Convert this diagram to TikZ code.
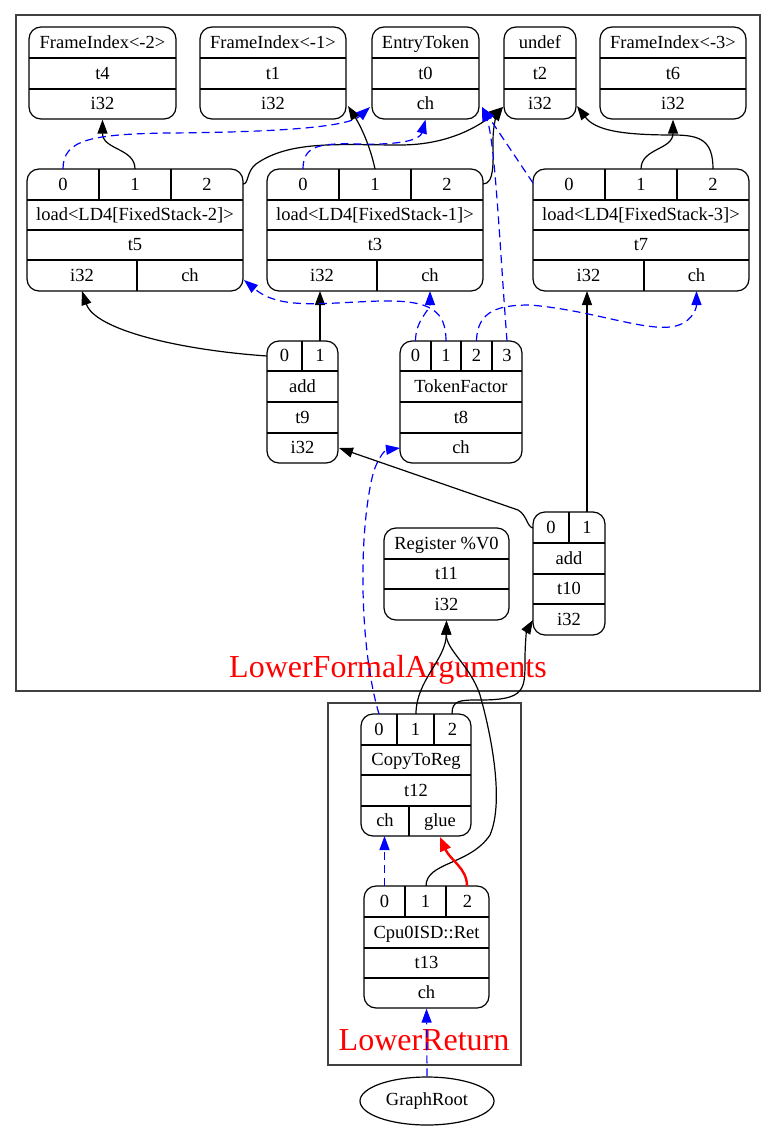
\documentclass[tikz,border=0pt]{standalone}
\usepackage{fontspec}
\setmainfont{Liberation Serif}
\usetikzlibrary{arrows.meta,shapes.geometric}
\newcommand\recnode[5]{\node[rec, minimum width={(#4-#2)*1pt}, minimum height={(#5-#3)*1pt}] (#1) at ({(#2+#4)/2},{(#3+#5)/2}) {};}
\newcommand\cell[4]{\node[lbl] (#1) at (#2,#3) {#4};}
\begin{document}
\begin{tikzpicture}[x=1pt,y=-1pt,
  rec/.style={draw, rounded corners=12pt, line width=1.2pt, inner sep=0pt},
  lbl/.style={font=\fontsize{18.5}{20}\selectfont, inner sep=0pt, text height=13.5pt, text depth=2pt},
  div/.style={line width=1.2pt},
  dep/.style={line width=1.2pt, -{Triangle[length=14pt,width=10pt]}},
  chn/.style={dep, blue, dash pattern=on 8pt off 5pt},
  glu/.style={line width=2.4pt, red, -{Triangle[length=14pt,width=11pt]}},
  clu/.style={draw=black!75, line width=1.3pt},
  clulbl/.style={text=red, font=\fontsize{32}{34}\selectfont, inner sep=0pt, anchor=base}
]
\useasboundingbox (0,0) rectangle (776,1129);
% clusters
\draw[clu] (16,15) rectangle (760,691);
\node[clulbl] (lfa) at (388,677) {LowerFormalArguments};
\draw[clu] (328,703) rectangle (521,1065);
\node[clulbl] (lr) at (424,1050) {LowerReturn};

% ---- top row
\recnode{fi2}{29}{27}{176}{119}
\draw[div] (29,58) -- (176,58) (29,89) -- (176,89);
\cell{fi2a}{102.5}{42.5}{FrameIndex<-2>}\cell{fi2b}{102.5}{73.5}{t4}\cell{fi2c}{102.5}{104}{i32}

\recnode{fi1}{200}{27}{346}{119}
\draw[div] (200,58) -- (346,58) (200,89) -- (346,89);
\cell{fi1a}{273}{42.5}{FrameIndex<-1>}\cell{fi1b}{273}{73.5}{t1}\cell{fi1c}{273}{104}{i32}

\recnode{et}{372}{27}{479}{119}
\draw[div] (372,58) -- (479,58) (372,89) -- (479,89);
\cell{eta}{425.5}{42.5}{EntryToken}\cell{etb}{425.5}{73.5}{t0}\cell{etc}{425.5}{104}{ch}

\recnode{ud}{504}{27}{576}{119}
\draw[div] (504,58) -- (576,58) (504,89) -- (576,89);
\cell{uda}{540}{42.5}{undef}\cell{udb}{540}{73.5}{t2}\cell{udc}{540}{104}{i32}

\recnode{fi3}{600}{27}{746}{119}
\draw[div] (600,58) -- (746,58) (600,89) -- (746,89);
\cell{fi3a}{673}{42.5}{FrameIndex<-3>}\cell{fi3b}{673}{73.5}{t6}\cell{fi3c}{673}{104}{i32}

% ---- loads
\recnode{t5}{27}{169}{243}{291}
\draw[div] (27,200) -- (243,200) (27,230) -- (243,230) (27,260) -- (243,260)
  (99,169) -- (99,200) (171,169) -- (171,200) (137,260) -- (137,291);
\cell{t5p0l}{63}{184.5}{0}\cell{t5p1l}{135}{184.5}{1}\cell{t5p2l}{207}{184.5}{2}
\cell{t5a}{135}{215}{load<LD4[FixedStack-2]>}\cell{t5b}{135}{245}{t5}
\cell{t5c}{82}{275.5}{i32}\cell{t5d}{190}{275.5}{ch}

\recnode{t3}{267}{169}{483}{291}
\draw[div] (267,200) -- (483,200) (267,230) -- (483,230) (267,260) -- (483,260)
  (339,169) -- (339,200) (411,169) -- (411,200) (377,260) -- (377,291);
\cell{t3p0l}{303}{184.5}{0}\cell{t3p1l}{375}{184.5}{1}\cell{t3p2l}{447}{184.5}{2}
\cell{t3a}{375}{215}{load<LD4[FixedStack-1]>}\cell{t3b}{375}{245}{t3}
\cell{t3c}{322}{275.5}{i32}\cell{t3d}{430}{275.5}{ch}

\recnode{t7}{533}{169}{749}{291}
\draw[div] (533,200) -- (749,200) (533,230) -- (749,230) (533,260) -- (749,260)
  (605,169) -- (605,200) (677,169) -- (677,200) (644,260) -- (644,291);
\cell{t7p0l}{569}{184.5}{0}\cell{t7p1l}{641}{184.5}{1}\cell{t7p2l}{713}{184.5}{2}
\cell{t7a}{641}{215}{load<LD4[FixedStack-3]>}\cell{t7b}{641}{245}{t7}
\cell{t7c}{588.5}{275.5}{i32}\cell{t7d}{696.5}{275.5}{ch}

% ---- t9, t8
\recnode{t9}{267}{341}{338}{463}
\draw[div] (267,371) -- (338,371) (267,402) -- (338,402) (267,433) -- (338,433) (302,341) -- (302,371);
\cell{t9p0l}{284.5}{356}{0}\cell{t9p1l}{320}{356}{1}
\cell{t9a}{302.5}{386.5}{add}\cell{t9b}{302.5}{417.5}{t9}\cell{t9c}{302.5}{448}{i32}

\recnode{t8}{400}{341}{522}{463}
\draw[div] (400,371) -- (522,371) (400,402) -- (522,402) (400,433) -- (522,433)
  (431,341) -- (431,371) (461,341) -- (461,371) (492,341) -- (492,371);
\cell{t8p0l}{415.5}{356}{0}\cell{t8p1l}{446}{356}{1}\cell{t8p2l}{476.5}{356}{2}\cell{t8p3l}{507}{356}{3}
\cell{t8a}{461}{386.5}{TokenFactor}\cell{t8b}{461}{417.5}{t8}\cell{t8c}{461}{448}{ch}

% ---- t10, t11
\recnode{t10}{533}{512}{605}{635}
\draw[div] (533,543) -- (605,543) (533,574) -- (605,574) (533,604) -- (605,604) (569,512) -- (569,543);
\cell{t10p0l}{551}{527.5}{0}\cell{t10p1l}{587}{527.5}{1}
\cell{t10a}{569}{558.5}{add}\cell{t10b}{569}{589}{t10}\cell{t10c}{569}{619.5}{i32}

\recnode{t11}{384}{528}{509}{620}
\draw[div] (384,559) -- (509,559) (384,589) -- (509,589);
\cell{t11a}{446.5}{543.5}{Register \%V0}\cell{t11b}{446.5}{574}{t11}\cell{t11c}{446.5}{604.5}{i32}

% ---- t12, t13
\recnode{t12}{361}{714}{471}{836}
\draw[div] (361,745) -- (471,745) (361,775) -- (471,775) (361,806) -- (471,806)
  (397,714) -- (397,745) (434,714) -- (434,745) (409,806) -- (409,836);
\cell{t12p0l}{379}{729.5}{0}\cell{t12p1l}{415.5}{729.5}{1}\cell{t12p2l}{452.5}{729.5}{2}
\cell{t12a}{416}{760}{CopyToReg}\cell{t12b}{416}{790.5}{t12}
\cell{t12c}{385}{821}{ch}\cell{t12d}{440}{821}{glue}

\recnode{t13}{364}{886}{489}{1008}
\draw[div] (364,917) -- (489,917) (364,948) -- (489,948) (364,978) -- (489,978)
  (405,886) -- (405,917) (446,886) -- (446,917);
\cell{t13p0l}{384.5}{901.5}{0}\cell{t13p1l}{425.5}{901.5}{1}\cell{t13p2l}{467.5}{901.5}{2}
\cell{t13a}{426.5}{932.5}{Cpu0ISD::Ret}\cell{t13b}{426.5}{963}{t13}\cell{t13c}{426.5}{993}{ch}

\node[draw, ellipse, line width=1.2pt, minimum width=134pt, minimum height=48pt, inner sep=0pt,
  font=\fontsize{18.5}{20}\selectfont] (root) at (427,1101) {GraphRoot};

% ---- port / target coordinates
\coordinate (t5p0) at (63,169); \coordinate (t5p1) at (135,169); \coordinate (t5p2) at (243,184);
\coordinate (t3p0) at (303,169); \coordinate (t3p1) at (375,169); \coordinate (t3p2) at (483,184);
\coordinate (t7p0) at (533,183); \coordinate (t7p1) at (641,169); \coordinate (t7p2) at (713,169);
\coordinate (t9p0) at (267,356); \coordinate (t9p1) at (320,341);
\coordinate (t8p0) at (415.5,341); \coordinate (t8p1) at (446,341); \coordinate (t8p2) at (476.5,341); \coordinate (t8p3) at (507,341);
\coordinate (t10p0) at (533,528); \coordinate (t10p1) at (587,512);
\coordinate (t12p0) at (379,714); \coordinate (t12p1) at (416,714); \coordinate (t12p2) at (452,714);
\coordinate (t13p0) at (384.5,886); \coordinate (t13p1) at (426,886); \coordinate (t13p2) at (467,886);
\coordinate (fi1in) at (348,106); \coordinate (etinl) at (370,107); \coordinate (etinr) at (482,107);
\coordinate (udinl) at (503,107); \coordinate (udinr) at (577,106);
\coordinate (t5i32) at (82,291); \coordinate (t5ch) at (244,280);
\coordinate (t3i32) at (320,291); \coordinate (t3ch) at (430,291);
\coordinate (t7i32) at (587,291); \coordinate (t7ch) at (696.5,291);
\coordinate (t9i32) at (339,448); \coordinate (t8ch) at (400,448);
\coordinate (t10i32) at (533,620); \coordinate (t12ch) at (384.5,836); \coordinate (t12glue) at (440,837);

% ---- black data edges
\draw[dep] (t5p1) .. controls (135,148) and (102.5,150) .. (fi2.south);
\draw[dep] (t5p2) .. controls (249,184) and (246,172) .. (256,164) .. controls (290,140) and (340,145) .. (400,145) .. controls (450,145) and (480,125) .. (udinl);
\draw[dep] (t3p1) .. controls (370,145) and (360,125) .. (fi1in);
\draw[dep] (t3p2) .. controls (495,184) and (493,160) .. (493,140) .. controls (493,125) and (497,115) .. (udinl);
\draw[dep] (t7p1) .. controls (641,148) and (673,150) .. (fi3.south);
\draw[dep] (t7p2) .. controls (713,140) and (700,135) .. (673,135) .. controls (620,135) and (595,130) .. (udinr);
\draw[dep] (t9p0) .. controls (180,350) and (95,330) .. (t5i32);
\draw[dep] (t9p1) -- (t3i32);
\draw[dep] (t10p0) .. controls (527,527) and (527,515) .. (518,510) -- (t9i32);
\draw[dep] (t10p1) -- (t7i32);
\draw[dep] (t12p1) .. controls (416,680) and (446,660) .. (t11.south);
\draw[dep] (t12p2) .. controls (452,700) and (460,700) .. (480,700) .. controls (525,700) and (525,690) .. (525,660) .. controls (525,640) and (527,630) .. (t10i32);
\draw[dep] (t13p1) .. controls (426,862) and (470,865) .. (490,835) .. controls (505,800) and (490,730) .. (480,695) .. controls (470,665) and (446,650) .. (t11.south);
\draw[glu] (t13p2) .. controls (467,868) and (450,860) .. (t12glue);

% ---- blue chain edges
\draw[chn] (t5p0) .. controls (63,140) and (90,134) .. (170,133) .. controls (300,132) and (350,125) .. (etinl);
\draw[chn] (t3p0) .. controls (303,145) and (320,143) .. (360,144) .. controls (400,145) and (420,140) .. (et.south);
\draw[chn] (t7p0) -- (etinr);
\draw[chn] (t8p0) .. controls (415.5,320) and (430,310) .. (t3ch);
\draw[chn] (t8p1) .. controls (446,310) and (430,300) .. (380,301) .. controls (320,303) and (280,310) .. (t5ch);
\draw[chn] (t8p2) .. controls (477,310) and (500,305) .. (530,305) .. controls (590,310) and (640,330) .. (670,327) .. controls (690,325) and (696.5,310) .. (t7ch);
\draw[chn] (t8p3) .. controls (500,250) and (495,140) .. (etinr);
\draw[chn] (t12p0) .. controls (360,650) and (358,540) .. (372,478) .. controls (376,460) and (385,450) .. (t8ch);
\draw[chn] (t13p0) -- (t12ch);
\draw[chn] (root.north) -- (t13.south);
\end{tikzpicture}
\end{document}
